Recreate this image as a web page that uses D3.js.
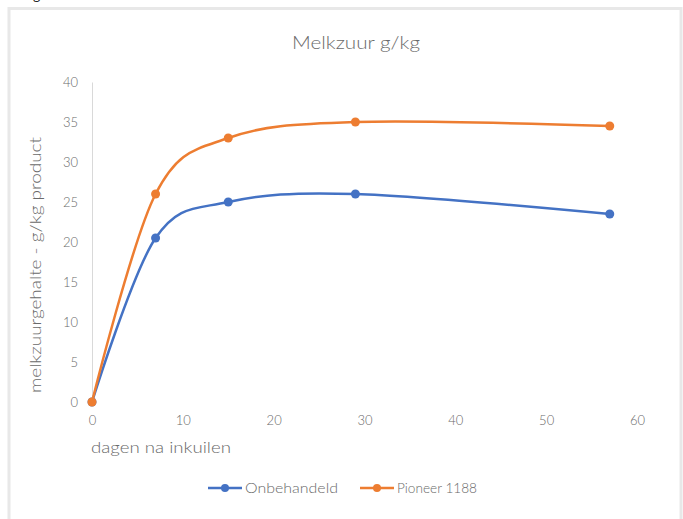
<!DOCTYPE html>
<html><head><meta charset="utf-8">
<script src="https://cdn.jsdelivr.net/npm/d3@7"></script>
<style>body{margin:0;background:#fff;}svg{display:block;}text{font-family:Lato,"Open Sans",sans-serif;fill:#6a6a6a;font-weight:300;}</style>
</head><body>
<script>
const days = [0, 7, 15, 29, 57];
const onbehandeld = [0, 20.5, 25, 26, 23.5];
const pioneer = [0, 26, 33, 35, 34.5];
const seriesNames = ["Onbehandeld", "Pioneer 1188"];
const seriesColors = ["#4472C4", "#ED7D31"];
const xTicks = [0, 10, 20, 30, 40, 50, 60];
const yTicks = [0, 5, 10, 15, 20, 25, 30, 35, 40];

const W = 683, H = 519;
const svg = d3.select("body").append("svg").attr("width", W).attr("height", H);

// outer frame
svg.append("rect").attr("x", 9).attr("y", 8.5).attr("width", 672).attr("height", 520)
  .attr("fill", "#fff").attr("stroke", "#e8e8e8").attr("stroke-width", 3);
// cut-off text fragment above frame
svg.append("text").attr("x", 33).attr("y", 0).attr("font-size", 14).style("fill", "#222").style("font-weight", 400).text("g");

const x = d3.scaleLinear().domain([0, 60]).range([92, 637]);
const y = d3.scaleLinear().domain([0, 40]).range([402, 82]);

// y axis
const yAxis = svg.append("g").attr("transform", "translate(92,0)")
  .call(d3.axisLeft(y).tickValues(yTicks).tickSize(0).tickPadding(14));
yAxis.select(".domain").attr("stroke", "#d9d9d9").attr("stroke-width", 1);
yAxis.selectAll("text").attr("font-size", 13).style("font-family", "Lato, sans-serif").style("fill", "#6a6a6a").style("font-weight", 300);

const xAxis = svg.append("g").attr("transform", "translate(0,402)")
  .call(d3.axisBottom(x).tickValues(xTicks).tickSize(0).tickPadding(14));
xAxis.select(".domain").remove();
xAxis.selectAll("text").attr("font-size", 13).style("font-family", "Lato, sans-serif").style("fill", "#6a6a6a").style("font-weight", 300);

// title
svg.append("text").attr("x", 356).attr("y", 49).attr("text-anchor", "middle")
  .attr("font-size", 17).attr("textLength", 128).attr("lengthAdjust", "spacingAndGlyphs").text("Melkzuur g/kg");
// axis titles
svg.append("text").attr("transform", "translate(41,265) rotate(-90)").attr("text-anchor", "middle")
  .attr("font-size", 15).attr("textLength", 256).attr("lengthAdjust", "spacingAndGlyphs").text("melkzuurgehalte - g/kg product");
svg.append("text").attr("x", 91).attr("y", 453).attr("font-size", 15)
  .attr("textLength", 140).attr("lengthAdjust", "spacingAndGlyphs").text("dagen na inkuilen");

const line = d3.line().x(d => x(d[0])).y(d => y(d[1])).curve(d3.curveCardinal.tension(0));
const allSeries = [onbehandeld, pioneer];
allSeries.forEach((vals, i) => {
  const pts = days.map((d, j) => [d, vals[j]]);
  svg.append("path").attr("d", line(pts)).attr("fill", "none")
    .attr("stroke", seriesColors[i]).attr("stroke-width", 2.5).attr("stroke-linecap", "round");
  svg.selectAll(null).data(pts).enter().append("circle")
    .attr("cx", d => x(d[0])).attr("cy", d => y(d[1])).attr("r", 4.5).attr("fill", seriesColors[i]);
});

// legend
const legX = [208, 360];
const legW = [93, 80];
seriesNames.forEach((n, i) => {
  const g = svg.append("g").attr("transform", `translate(${legX[i]},488)`);
  g.append("line").attr("x1", 0).attr("x2", 34).attr("stroke", seriesColors[i]).attr("stroke-width", 2.5);
  g.append("circle").attr("cx", 17).attr("r", 4).attr("fill", seriesColors[i]);
  g.append("text").attr("x", 37).attr("y", 5).attr("font-size", 14)
    .attr("textLength", legW[i]).attr("lengthAdjust", "spacingAndGlyphs").text(n);
});
</script>
</body></html>
